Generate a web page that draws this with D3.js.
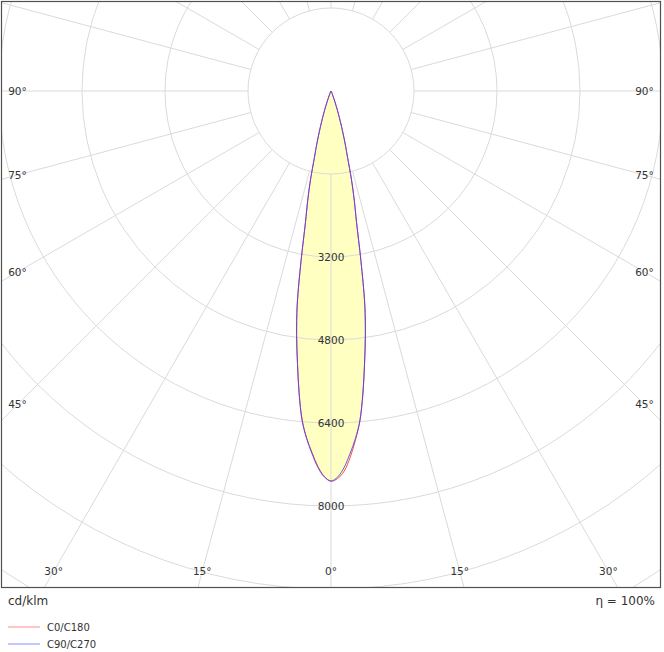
<!DOCTYPE html>
<html>
<head>
<meta charset="utf-8">
<script src="https://cdn.jsdelivr.net/npm/d3@7"></script>
<style>
  body { margin: 0; background: #fff; }
  svg { display: block; }
  text { font-family: "DejaVu Sans", sans-serif; fill: #333; }
</style>
</head>
<body>
<svg id="chart"></svg>
<script>
// gamma angles (deg) and intensities (cd/klm) per C-plane
var gammas = [0, 1, 2, 3, 4, 5, 6, 7, 8, 9, 10, 11, 12, 13, 14, 15, 16, 17, 18, 19, 20, 22, 25, 30, 40, 90];
var c0   = [7520, 7470, 7330, 7070, 6750, 6390, 5880, 5310, 4760, 4160, 3320, 2580, 2160, 1760, 1320, 1060, 820, 620, 450, 320, 210, 90, 25, 0, 0, 0];
var c180 = [7520, 7430, 7240, 6980, 6710, 6370, 5870, 5300, 4760, 4160, 3320, 2580, 2160, 1760, 1320, 1060, 820, 620, 450, 320, 210, 90, 25, 0, 0, 0];
var c90  = [7520, 7440, 7260, 7000, 6720, 6380, 5870, 5300, 4760, 4160, 3320, 2580, 2160, 1760, 1320, 1060, 820, 620, 450, 320, 210, 90, 25, 0, 0, 0];
var c270 = [7520, 7440, 7260, 7000, 6720, 6380, 5870, 5300, 4760, 4160, 3320, 2580, 2160, 1760, 1320, 1060, 820, 620, 450, 320, 210, 90, 25, 0, 0, 0];

var ringValues = [1600, 3200, 4800, 6400, 8000, 9600, 11200, 12800];
var ringLabels = [3200, 4800, 6400, 8000];
var spokeAngles = d3.range(0, 360, 15);
var leftLabels = [90, 75, 60, 45];
var bottomLabels = [-30, -15, 0, 15, 30];
var series = [
    { name: 'C0/C180', right: c0, left: c180, color: '#ff3030', legend: '#ff8c8c' },
    { name: 'C90/C270', right: c90, left: c270, color: '#3f3fff', legend: '#8c8cff' }
];

var width = 664,
    height = 652,
    frame = { x: 1.5, y: 1.5, w: 659, h: 586 },
    cx = 331,
    cy = 91,
    inset = 16;

var r = d3.scaleLinear().domain([0, 1600]).range([0, 83]);

var svg = d3.select('#chart')
    .attr('width', width)
    .attr('height', height);

svg.append('clipPath').attr('id', 'clip')
    .append('rect')
    .attr('x', frame.x).attr('y', frame.y)
    .attr('width', frame.w).attr('height', frame.h);

var plot = svg.append('g').attr('clip-path', 'url(#clip)');
var g = plot.append('g').attr('transform', 'translate(' + cx + ',' + cy + ')');

// build closed outline: left half (gamma 90 -> 0) then right half (0 -> 90)
function outline(left, right) {
    var pts = [];
    for (var i = gammas.length - 1; i >= 0; i--) {
        pts.push([Math.PI + gammas[i] * Math.PI / 180, r(left[i])]);
    }
    for (var j = 1; j < gammas.length; j++) {
        pts.push([Math.PI - gammas[j] * Math.PI / 180, r(right[j])]);
    }
    return pts;
}

var line = d3.lineRadial()
    .angle(function(d) { return d[0]; })
    .radius(function(d) { return d[1]; })
    .curve(d3.curveCatmullRom);

// fill
g.selectAll('path.fill')
    .data(series)
    .enter().append('path')
    .attr('class', 'fill')
    .attr('d', function(d) { return line(outline(d.left, d.right)); })
    .style('fill', '#ffffc2')
    .style('stroke', 'none');

// grid rings
g.selectAll('circle.ring')
    .data(ringValues)
    .enter().append('circle')
    .attr('r', function(d) { return r(d); })
    .style('fill', 'none')
    .style('stroke', '#dadada')
    .style('stroke-width', 1);

// spokes
g.selectAll('line.spoke')
    .data(spokeAngles)
    .enter().append('line')
    .attr('x1', function(d) { return r(1600) * Math.sin(d * Math.PI / 180); })
    .attr('y1', function(d) { return r(1600) * Math.cos(d * Math.PI / 180); })
    .attr('x2', function(d) { return 1000 * Math.sin(d * Math.PI / 180); })
    .attr('y2', function(d) { return 1000 * Math.cos(d * Math.PI / 180); })
    .style('stroke', '#dadada')
    .style('stroke-width', 1);

// curves
g.selectAll('path.curve')
    .data(series)
    .enter().append('path')
    .attr('class', 'curve')
    .attr('d', function(d) { return line(outline(d.left, d.right)); })
    .style('fill', 'none')
    .style('stroke', function(d) { return d.color; })
    .style('stroke-opacity', 0.85)
    .style('stroke-width', 1);

// ring value labels
g.selectAll('text.ringlabel')
    .data(ringLabels)
    .enter().append('text')
    .attr('x', 0)
    .attr('y', function(d) { return r(d); })
    .attr('dy', '0.35em')
    .attr('text-anchor', 'middle')
    .style('font-size', '10.5px')
    .text(function(d) { return d; });

// angle labels: placed on the spoke, inset from the frame
function labelPos(deg) {
    var a = deg * Math.PI / 180,
        dx = Math.sin(a), dy = Math.cos(a),
        ts = [];
    if (dx > 1e-6) ts.push((frame.x + frame.w - inset - cx) / dx);
    if (dx < -1e-6) ts.push((frame.x + inset - cx) / dx);
    if (dy > 1e-6) ts.push((frame.y + frame.h - inset - cy) / dy);
    var t = d3.min(ts);
    return [cx + t * dx, cy + t * dy];
}

var angleData = [];
leftLabels.forEach(function(d) {
    angleData.push({ deg: -d, label: d + '°' });
    angleData.push({ deg: d, label: d + '°' });
});
bottomLabels.forEach(function(d) {
    angleData.push({ deg: d, label: Math.abs(d) + '°' });
});

svg.selectAll('text.angle')
    .data(angleData)
    .enter().append('text')
    .attr('class', 'angle')
    .attr('x', function(d) { return labelPos(d.deg)[0]; })
    .attr('y', function(d) { return labelPos(d.deg)[1]; })
    .attr('dy', '0.35em')
    .attr('text-anchor', 'middle')
    .style('font-size', '10.5px')
    .text(function(d) { return d.label; });

// frame
svg.append('rect')
    .attr('x', frame.x).attr('y', frame.y)
    .attr('width', frame.w).attr('height', frame.h)
    .style('fill', 'none')
    .style('stroke', '#505050')
    .style('stroke-width', 1.2);

// footer
svg.append('text')
    .attr('x', 8).attr('y', 605)
    .style('font-size', '12px')
    .text('cd/klm');

svg.append('text')
    .attr('x', 655).attr('y', 605)
    .attr('text-anchor', 'end')
    .style('font-size', '12px')
    .text('η = 100%');

// legend
var legend = svg.selectAll('g.legend')
    .data(series)
    .enter().append('g')
    .attr('class', 'legend')
    .attr('transform', function(d, i) { return 'translate(8,' + (627 + i * 17) + ')'; });

legend.append('line')
    .attr('x1', 0).attr('x2', 32)
    .attr('y1', 0).attr('y2', 0)
    .style('stroke', function(d) { return d.legend; })
    .style('stroke-width', 1);

legend.append('text')
    .attr('x', 39)
    .attr('dy', '0.35em')
    .style('font-size', '10px')
    .text(function(d) { return d.name; });
</script>
</body>
</html>
